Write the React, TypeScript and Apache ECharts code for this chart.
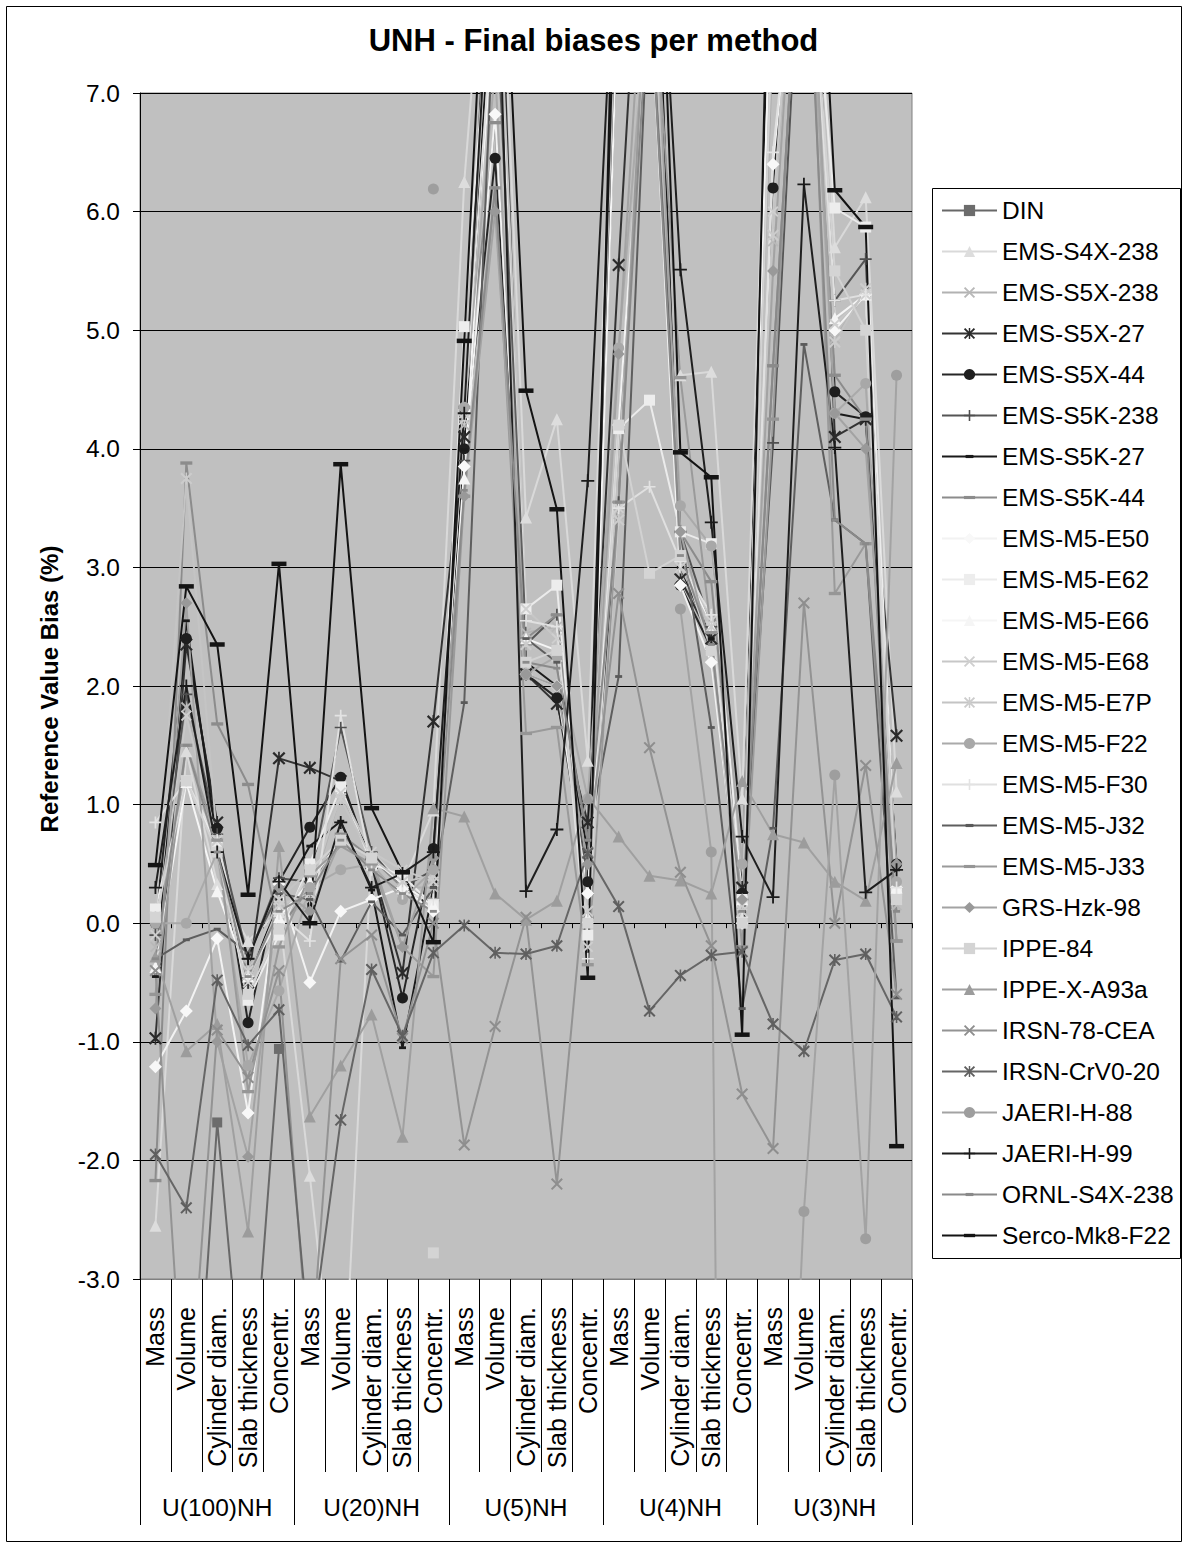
import React, { useEffect, useRef } from "react";
import * as echarts from "echarts";

const TITLE = "UNH - Final biases per method";
const Y_TITLE = "Reference Value Bias (%)";
const quantities = ["Mass", "Volume", "Cylinder diam.", "Slab thickness", "Concentr."];
const groups = ["U(100)NH", "U(20)NH", "U(5)NH", "U(4)NH", "U(3)NH"];
const categories = groups.flatMap((g) => quantities.map((q) => g + "|" + q));
const yTicks = { min: -3, max: 7, interval: 1 };

// values: U(100)NH [M,V,C,S,K] | U(20)NH | U(5)NH | U(4)NH | U(3)NH
const DIN = [-4.5, -5.5, -1.68, -4.5, -1.06, null, null, null, null, null, null, null, null, null, null, null, null, null, null, null, null, null, null, null, null];
const S4X_238 = [-2.55, 1.45, 0.33, -0.15, 0.1, -2.13, -4.5, 0.6, 0.33, 0.95, 6.25, 9.5, 3.42, 4.25, 1.37, 9, 8.5, 4.62, 4.65, 1.05, 9, 10, 5.7, 6.12, 1.11];
const S5X_238 = [-0.2, 1.82, 0.72, -0.35, 0.0, 0.2, 1.1, 0.55, 0.3, 0.3, 4.2, 8.5, 2.45, 2.5, 0.0, 3.45, 9, 3.05, 2.25, 0.1, 5.75, 9.5, 4.93, 5.32, 0.15];
const S5X_27 = [-0.97, 2.35, 0.85, -0.5, 1.39, 1.31, 1.2, 0.5, -0.42, 1.7, 4.1, 9.5, 2.1, 1.85, 0.85, 5.55, 10, 2.9, 2.4, 0.3, 8.5, 11, 4.1, 4.25, 1.58];
const S5X_44 = [0.0, 2.4, 0.8, -0.84, 0.35, 0.81, 1.23, 0.5, -0.63, 0.63, 4.0, 6.45, 2.1, 1.9, 0.35, 8, 9.5, 2.85, 2.32, 0.25, 6.2, 10, 4.48, 4.27, 0.5];
const S5K_238 = [-0.1, 1.93, 0.75, -0.3, 0.38, 0.35, 1.65, 0.6, 0.3, 0.45, 3.9, 8.0, 2.35, 2.6, 0.25, 3.55, 8.5, 3.3, 2.5, 0.2, 4.05, 9, 5.25, 5.6, 0.3];
const S5K_27 = [-0.45, 2.55, 0.65, -0.5, 0.2, 0.65, 0.86, 0.28, -1.05, 0.3, 3.99, 8.5, 2.2, 2.0, 0.6, 9, 10, 3.0, 2.4, 0.2, 9, 10, 4.3, 4.25, 0.45];
const S5K_44 = [-2.17, 3.88, 1.68, 1.17, -0.05, 0.3, 0.75, 0.55, 0.3, 0.2, 4.35, 6.75, 2.4, 2.6, 0.05, 4.15, 8, 3.3, 2.88, 0.2, 4.7, 9, 4.62, 4.25, -0.15];
const M5_E50 = [-1.21, -0.74, -0.13, -1.6, 0.33, -0.5, 0.1, 0.2, 0.3, 0.1, 3.85, 6.82, 2.1, 2.0, 0.25, 4.2, 8, 2.85, 2.2, 0.0, 6.4, 9, 5.0, 5.3, 0.3];
const M5_E62 = [0.12, 1.2, 0.65, -0.65, -0.1, 0.5, 1.15, 0.5, 0.4, 0.15, 5.03, 8.5, 2.65, 2.85, -0.1, 4.17, 4.41, 3.3, 3.2, 0.2, 8.5, 9, 6.03, 5.87, 0.25];
const M5_E66 = [-0.37, 1.19, 0.27, -0.45, 0.05, 0.35, 0.7, 0.55, 0.33, 0.15, 3.75, 8, 2.4, 2.3, 0.05, 8, 9, 3.1, 2.5, 0.2, 8.5, 9, 5.1, 5.3, 0.3];
const M5_E68 = [-0.1, 1.75, 0.7, -0.5, 0.15, 0.25, 1.1, 0.6, 0.45, 0.35, 4.3, 8.8, 2.65, 2.4, -0.2, 3.5, 8.5, 3.1, 2.55, 0.15, 6.0, 9.5, 5.05, 5.3, 0.2];
const M5_E7P = [0.05, 3.75, 0.7, -0.4, 0.2, 0.45, 1.05, 0.55, 0.35, 0.4, 4.25, 7.5, 2.35, 2.25, 0.1, 3.4, 9, 3.0, 2.5, 0.1, 5.8, 9, 4.9, 5.35, 0.2];
const M5_F22 = [0.0, 0.0, 0.6, -1.2, -0.57, 0.3, 0.45, 0.5, 0.2, 0.45, 4.35, 7.2, 2.1, 2.25, 1.05, 4.85, 8, 3.52, 3.18, 0.5, 7.5, 9, 4.3, 4.55, 0.35];
const M5_F30 = [0.85, 1.2, 0.7, -0.45, 0.08, -0.15, 1.75, 0.45, 0.25, 0.2, 4.3, 8, 2.55, 2.5, -0.3, 3.5, 3.68, 3.05, 2.6, 0.05, 6.5, 9, 5.25, 5.3, 0.3];
const M5_J32 = [-0.3, -0.14, -0.05, -0.25, 0.25, 0.2, -0.32, 0.18, -0.1, 0.3, 1.86, 8, 2.4, 2.2, 0.7, 2.08, 8, 3.3, 1.65, -0.72, 0.8, 4.88, 3.4, 3.2, -0.63];
const M5_J33 = [-0.6, 1.5, 0.7, -1.42, -0.2, 0.4, 0.65, 0.5, -0.2, -0.45, 3.6, 6.2, 1.6, 1.65, -0.35, 3.55, 8.5, 4.6, 2.45, -0.2, 4.25, 9.5, 2.78, 3.2, -0.15];
const GRS_HZK_98 = [-0.72, 2.7, -1.0, -1.97, 0.3, 0.1, 0.7, 0.55, -0.2, 0.55, 3.6, 6.0, 2.1, 2.0, 0.5, 4.8, 9, 3.3, 2.3, 0.2, 5.5, 9.5, 4.3, 4.0, 0.5];
const IPPE_84 = [0.05, 1.2, 0.6, -0.6, -0.05, 0.45, 0.7, 0.55, null, -2.78, null, null, 2.2, 2.3, 0.0, 4.2, 2.95, 3.1, 2.3, 0.0, 7.8, 9, 5.5, 5.0, 0.2];
const IPPE_X_A93A = [-0.28, -1.08, -0.85, -2.6, 0.65, -1.63, -1.2, -0.77, -1.8, 0.97, 0.9, 0.25, 0.03, 0.19, 1.06, 0.73, 0.4, 0.36, 0.25, 1.2, 0.75, 0.68, 0.35, 0.19, 1.35];
const IRSN_78_CEA = [-0.4, -4.5, -0.9, -1.3, -0.4, -3.8, -0.3, -0.1, -0.97, 0.0, -1.87, -0.87, 0.05, -2.2, 0.6, 2.78, 1.48, 0.43, -0.19, -1.44, -1.9, 2.7, 0.0, 1.33, -0.6];
const IRSN_CRV0_20 = [-1.95, -2.4, -0.48, -1.03, -0.73, -3.6, -1.66, -0.39, -0.95, -0.25, -0.02, -0.25, -0.26, -0.19, 0.59, 0.14, -0.74, -0.44, -0.27, -0.24, -0.85, -1.08, -0.31, -0.26, -0.79];
const JAERI_H_88 = [null, null, null, null, null, null, null, null, null, 6.19, null, null, null, null, null, null, null, 2.65, 0.6, -25, -8, -2.43, 1.25, -2.66, 4.62];
const JAERI_H_99 = [0.3, 2.0, 0.6, -0.3, 0.35, 0.01, 0.85, 0.3, 0.42, 0.6, 4.3, 9, 0.27, 0.79, 3.73, 9, 10, 5.51, 3.38, 0.73, 0.22, 6.23, 4.01, 0.26, 0.45];
const ORNL_S4X_238 = [-0.3, 1.5, 0.6, -0.45, 0.1, 0.25, 0.7, 0.45, 0.25, 0.1, 3.65, 6.2, 2.2, 2.15, 0.7, 3.55, 8, 3.1, 2.35, 0.1, 4.7, 9, 3.4, 3.2, 0.1];
const SERCO_MK8_F22 = [0.49, 2.84, 2.35, 0.24, 3.03, 0.0, 3.87, 0.97, 0.43, -0.16, 4.91, 10, 4.49, 3.49, -0.46, 10, 11, 3.97, 3.76, -0.94, 10, 11, 6.18, 5.87, -1.88];

// marker shapes
const XMARK = "path://M0,1.2L1.2,0L5,3.8L8.8,0L10,1.2L6.2,5L10,8.8L8.8,10L5,6.2L1.2,10L0,8.8L3.8,5Z";
const STAR = XMARK + "M4.35,0H5.65V10H4.35Z";
const PLUS = "path://M4.3,0H5.7V4.3H10V5.7H5.7V10H4.3V5.7H0V4.3H4.3Z";
const SDASH = "path://M0,0M10,10M1.5,3.6H8.5V6.4H1.5Z";
const MDASH = "path://M0,0M10,10M0,3.6H10V6.4H0Z";
const LDASH = "path://M0,0M10,10M0,3.5H10V6.5H0Z";

const seriesDefs = [
  { name: "DIN", data: DIN, line: "#686868", fill: "#6c6c6c", symbol: "rect", size: 10 },
  { name: "EMS-S4X-238", data: S4X_238, line: "#d9d9d9", fill: "#dddddd", symbol: "triangle", size: 12 },
  { name: "EMS-S5X-238", data: S5X_238, line: "#b2b2b2", fill: "#b8b8b8", symbol: XMARK, size: 11 },
  { name: "EMS-S5X-27", data: S5X_27, line: "#333333", fill: "#2a2a2a", symbol: STAR, size: 13 },
  { name: "EMS-S5X-44", data: S5X_44, line: "#262626", fill: "#1e1e1e", symbol: "circle", size: 11 },
  { name: "EMS-S5K-238", data: S5K_238, line: "#555555", fill: "#4f4f4f", symbol: PLUS, size: 12 },
  { name: "EMS-S5K-27", data: S5K_27, line: "#1a1a1a", fill: "#1a1a1a", symbol: SDASH, size: 10 },
  { name: "EMS-S5K-44", data: S5K_44, line: "#8c8c8c", fill: "#8c8c8c", symbol: MDASH, size: 12 },
  { name: "EMS-M5-E50", data: M5_E50, line: "#f2f2f2", fill: "#f8f8f8", symbol: "diamond", size: 13 },
  { name: "EMS-M5-E62", data: M5_E62, line: "#ebebeb", fill: "#ededed", symbol: "rect", size: 11 },
  { name: "EMS-M5-E66", data: M5_E66, line: "#f5f5f5", fill: "#f5f5f5", symbol: "triangle", size: 12 },
  { name: "EMS-M5-E68", data: M5_E68, line: "#c7c7c7", fill: "#cfcfcf", symbol: XMARK, size: 11 },
  { name: "EMS-M5-E7P", data: M5_E7P, line: "#c4c4c4", fill: "#cccccc", symbol: STAR, size: 12 },
  { name: "EMS-M5-F22", data: M5_F22, line: "#aaaaaa", fill: "#a8a8a8", symbol: "circle", size: 11 },
  { name: "EMS-M5-F30", data: M5_F30, line: "#e0e0e0", fill: "#e3e3e3", symbol: PLUS, size: 12 },
  { name: "EMS-M5-J32", data: M5_J32, line: "#5e5e5e", fill: "#5a5a5a", symbol: SDASH, size: 10 },
  { name: "EMS-M5-J33", data: M5_J33, line: "#9a9a9a", fill: "#969696", symbol: MDASH, size: 12 },
  { name: "GRS-Hzk-98", data: GRS_HZK_98, line: "#a3a3a3", fill: "#999999", symbol: "diamond", size: 12 },
  { name: "IPPE-84", data: IPPE_84, line: "#d2d2d2", fill: "#d4d4d4", symbol: "rect", size: 11 },
  { name: "IPPE-X-A93a", data: IPPE_X_A93A, line: "#a0a0a0", fill: "#9c9c9c", symbol: "triangle", size: 12 },
  { name: "IRSN-78-CEA", data: IRSN_78_CEA, line: "#939393", fill: "#8e8e8e", symbol: XMARK, size: 12 },
  { name: "IRSN-CrV0-20", data: IRSN_CRV0_20, line: "#666666", fill: "#5f5f5f", symbol: STAR, size: 12 },
  { name: "JAERI-H-88", data: JAERI_H_88, line: "#a3a3a3", fill: "#9e9e9e", symbol: "circle", size: 11 },
  { name: "JAERI-H-99", data: JAERI_H_99, line: "#1f1f1f", fill: "#1a1a1a", symbol: PLUS, size: 13 },
  { name: "ORNL-S4X-238", data: ORNL_S4X_238, line: "#8a8a8a", fill: "#8a8a8a", symbol: SDASH, size: 10 },
  { name: "Serco-Mk8-F22", data: SERCO_MK8_F22, line: "#141414", fill: "#141414", symbol: LDASH, size: 15 },
];

const FONT = '"Liberation Sans", Arial, sans-serif';

function buildOption() {
  return {
    animation: false,
    backgroundColor: "#ffffff",
    textStyle: { fontFamily: FONT },
    title: {
      text: TITLE,
      left: "center",
      top: 20,
      textStyle: { fontSize: 31, fontWeight: "bold", color: "#000", fontFamily: FONT },
    },
    grid: {
      left: 140,
      top: 93,
      width: 772,
      height: 1186,
      show: true,
      backgroundColor: "#c0c0c0",
      borderColor: "#808080",
      borderWidth: 1,
    },
    legend: {
      orient: "vertical",
      left: 941,
      top: 198,
      padding: 0,
      itemWidth: 55,
      itemHeight: 14,
      itemGap: 16,
      selectedMode: false,
      textStyle: { fontSize: 24.5, color: "#000", lineHeight: 24, fontFamily: FONT },
      data: seriesDefs.map((d) => d.name),
    },
    xAxis: [
      {
        type: "category",
        data: categories,
        position: "bottom",
        boundaryGap: true,
        axisLine: { show: true, onZero: false, lineStyle: { color: "#808080", width: 1 } },
        axisTick: { show: true, interval: 0, alignWithLabel: false, length: 193, lineStyle: { color: "#000", width: 1 } },
        axisLabel: {
          interval: 0,
          rotate: 90,
          margin: 28,
          fontSize: 25,
          color: "#000",
          fontFamily: FONT,
          formatter: (v: string) => v.split("|")[1],
        },
        splitLine: { show: false },
      },
      {
        type: "category",
        data: groups,
        position: "bottom",
        offset: 193,
        boundaryGap: true,
        axisLine: { show: false, onZero: false },
        axisTick: { show: true, interval: 0, alignWithLabel: false, length: 53, lineStyle: { color: "#000", width: 1 } },
        axisLabel: { interval: 0, margin: 23, fontSize: 24.5, color: "#000", fontFamily: FONT },
        splitLine: { show: false },
      },
      {
        type: "category",
        data: categories,
        position: "bottom",
        boundaryGap: true,
        axisLine: { show: true, onZero: true, lineStyle: { color: "#000", width: 1 } },
        axisTick: { show: true, interval: 0, alignWithLabel: false, length: 5, lineStyle: { color: "#000", width: 1 } },
        axisLabel: { show: false },
        splitLine: { show: false },
      },
    ],
    yAxis: {
      type: "value",
      min: yTicks.min,
      max: yTicks.max,
      interval: yTicks.interval,
      axisLine: { show: true, lineStyle: { color: "#000", width: 1 } },
      axisTick: { show: true, length: 7, lineStyle: { color: "#000" } },
      axisLabel: {
        formatter: (v: number) => v.toFixed(1),
        fontSize: 24.5,
        color: "#000",
        margin: 20,
        fontFamily: FONT,
      },
      splitLine: { show: true, lineStyle: { color: "#000", width: 1 } },
    },
    graphic: [
      {
        type: "rect",
        silent: true,
        shape: { x: 6.5, y: 6.5, width: 1175, height: 1535 },
        style: { fill: "none", stroke: "#000", lineWidth: 1 },
        z: -1,
      },
      {
        type: "rect",
        silent: true,
        shape: { x: 932.5, y: 188.5, width: 248, height: 1070 },
        style: { fill: "none", stroke: "#000", lineWidth: 1 },
      },
      {
        type: "text",
        silent: true,
        x: 49,
        y: 689,
        rotation: Math.PI / 2,
        style: {
          text: Y_TITLE,
          font: "bold 24px " + FONT,
          fill: "#000",
          align: "center",
          verticalAlign: "middle",
          textAlign: "center",
          textVerticalAlign: "middle",
        },
      },
    ],
    series: seriesDefs.map((d) => ({
      type: "line",
      name: d.name,
      data: d.data,
      xAxisIndex: 0,
      yAxisIndex: 0,
      symbol: d.symbol,
      symbolSize: d.size,
      showSymbol: true,
      showAllSymbol: true,
      connectNulls: false,
      clip: true,
      silent: true,
      lineStyle: { color: d.line, width: 2 },
      itemStyle: { color: d.fill, borderWidth: 0 },
      emphasis: { disabled: true },
    })),
  };
}

export default function App() {
  const ref = useRef<HTMLDivElement>(null);
  useEffect(() => {
    if (!ref.current) return;
    const chart = echarts.init(ref.current, null, { renderer: "svg" });
    chart.setOption(buildOption() as any);
    return () => chart.dispose();
  }, []);
  return (
    <div
      ref={ref}
      style={{ position: "absolute", left: 0, top: 0, width: 1187, height: 1548, background: "#fff" }}
    />
  );
}
